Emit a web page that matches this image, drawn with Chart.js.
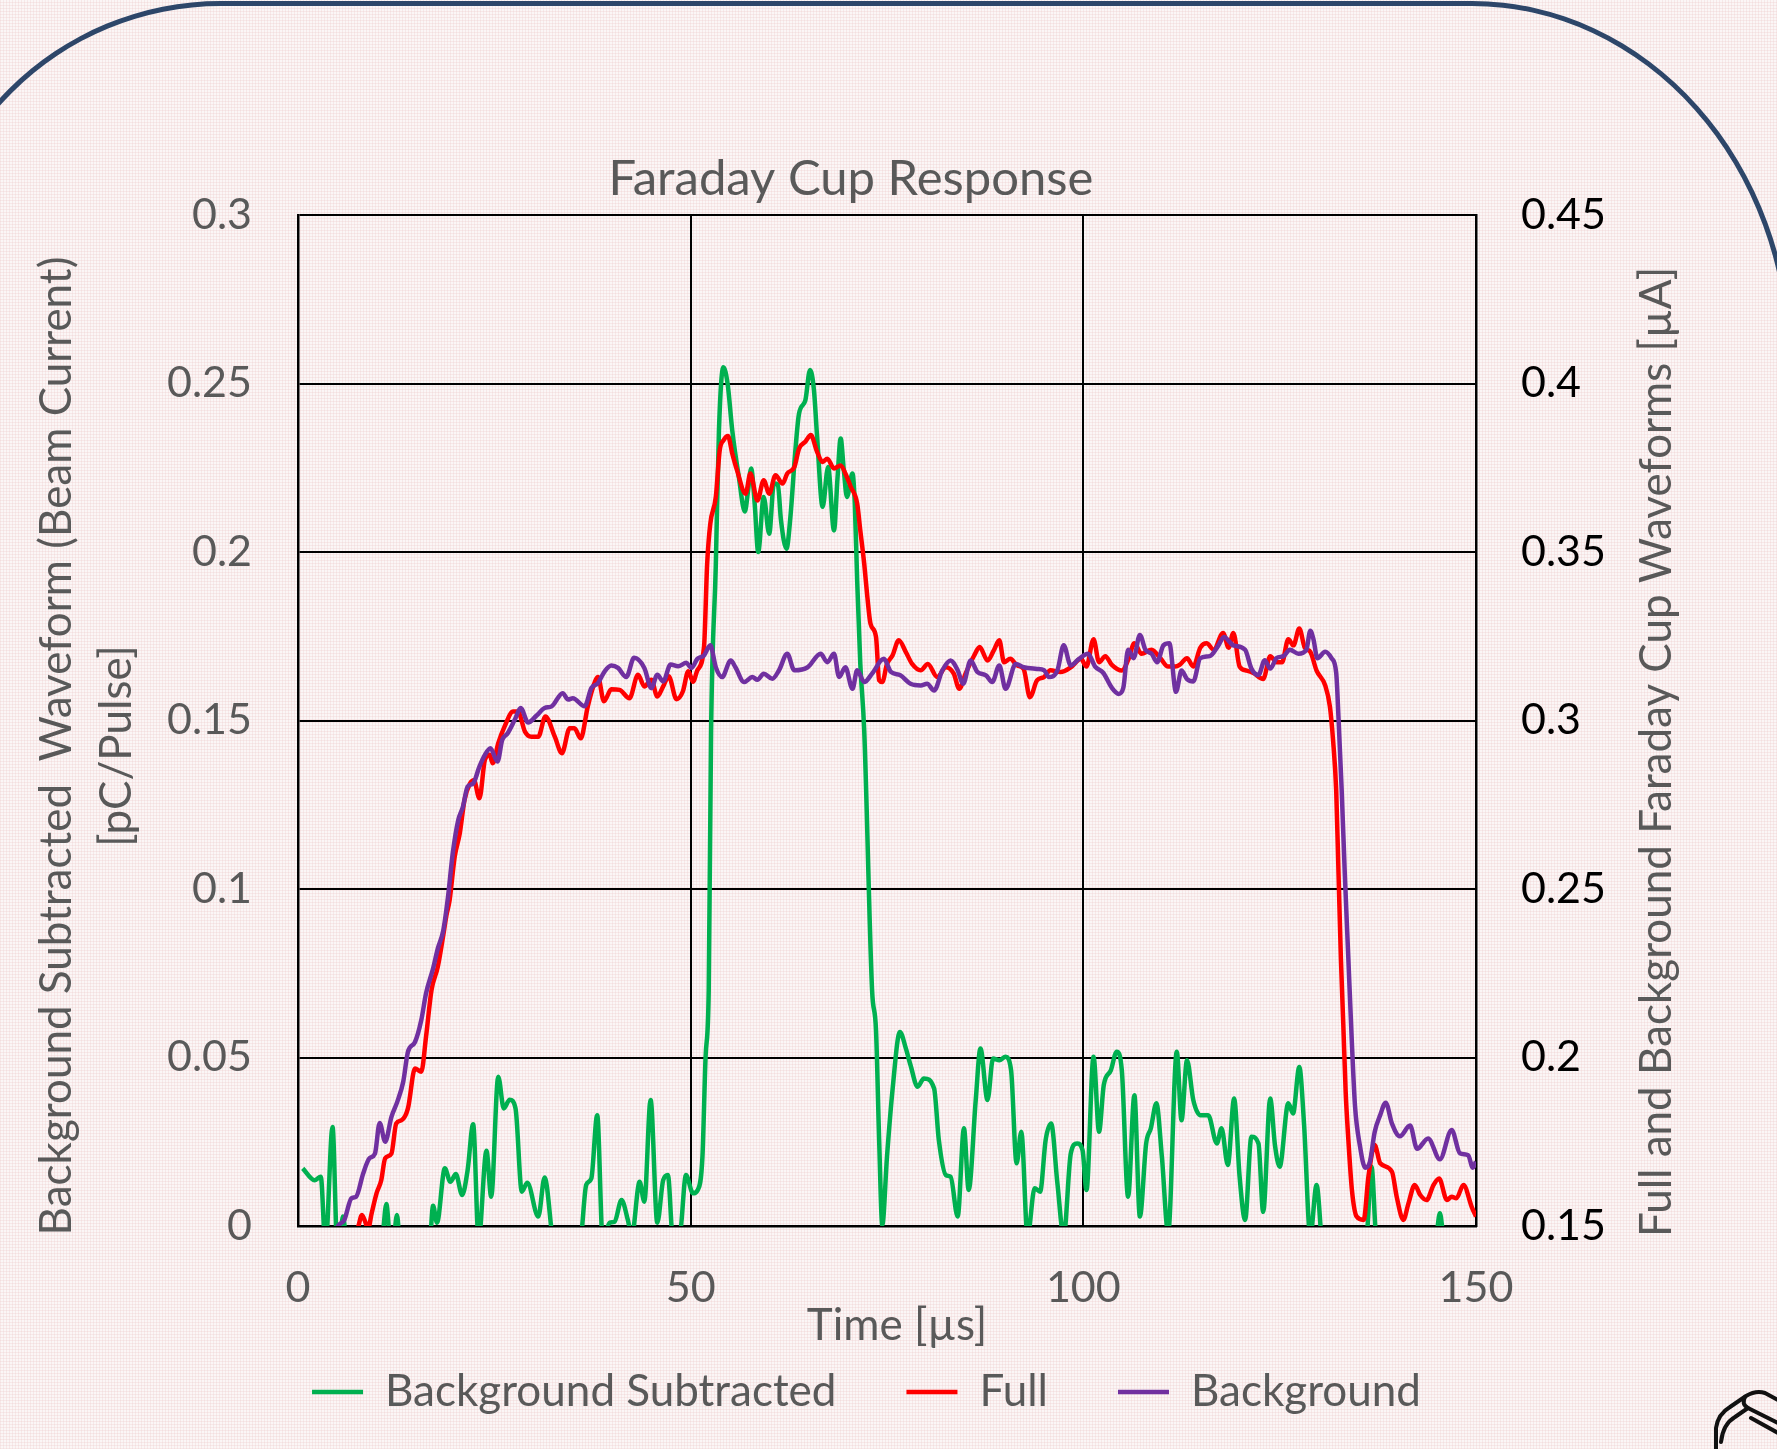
<!DOCTYPE html>
<html>
<head>
<meta charset="utf-8">
<title>Faraday Cup Response</title>
<script src="https://cdn.jsdelivr.net/npm/chart.js@4.4.1/dist/chart.umd.min.js"></script>
<style>
  html, body { margin: 0; padding: 0; }
  body {
    width: 1777px; height: 1449px; overflow: hidden; position: relative;
    background-color: #fbf6f6;
    background-image:
      repeating-linear-gradient(0deg, rgba(236, 200, 200, 0.30) 0 1px, transparent 1px 3px),
      repeating-linear-gradient(90deg, rgba(236, 200, 200, 0.30) 0 1px, transparent 1px 3px);
  }
  #frame {
    position: absolute; left: -79px; top: 1px; width: 1871px; height: 1700px;
    box-sizing: border-box; border: 5px solid #2d4669;
    border-top-left-radius: 300px;
    border-top-right-radius: 320px 360px;
  }
  #clip { position: absolute; left: 1700px; top: 1380px; }
  #wrap { position: absolute; left: 0; top: 0; width: 1777px; height: 1449px; }
</style>
</head>
<body>
<div id="frame"></div>
<svg id="clip" width="77" height="69" viewBox="1700 1380 77 69" fill="none" stroke="#111" stroke-width="4" stroke-linecap="round" stroke-linejoin="round">
  <path d="M1716 1452 L1716 1428 Q1718 1414 1730 1407 L1746 1396 Q1756 1390 1765 1393 L1780 1401"/>
  <path d="M1721 1442 Q1723 1424 1735 1417 L1748 1408 L1780 1424"/>
  <path d="M1751 1418 L1780 1434"/>
  <path d="M1745 1397 Q1741 1404 1748 1408"/>
</svg>
<div id="wrap"><canvas id="chart"></canvas></div>
<script>
// Background subtracted waveform (left axis, pC/Pulse)
const bgSubT = [0.6,2.1,2.9,3.5,4.4,5.0,5.4,5.73,6.3,8.0,10.7,11.25,11.8,12.2,12.6,13.0,15.0,16.8,17.2,17.7,
  18.7,19.4,20.1,20.9,21.6,22.3,23.0,24.0,24.6,25.5,26.2,26.95,27.7,28.5,29.2,30.6,31.4,32.6,34.5,36.0,
  36.7,37.35,38.1,38.8,39.7,40.3,41.2,42.0,42.5,43.5,44.1,44.9,45.75,46.5,47.1,47.75,48.6,49.4,50.3,50.9,
  51.5,51.9,52.3,52.6,53.2,53.6,54.16,54.7,55.3,56.15,56.9,57.3,57.7,58.15,58.6,59.3,60.0,60.6,61.1,61.5,
  62.2,62.7,63.3,63.8,64.6,65.2,65.7,66.1,66.8,67.5,68.25,68.7,69.1,69.5,69.9,70.6,70.9,71.2,71.6,72.1,
  73.1,73.6,74.0,74.4,75.0,75.7,76.65,77.4,78.0,78.9,79.7,81.0,81.6,82.5,83.1,84.0,84.8,85.4,86.3,86.9,
  87.8,88.5,89.3,90.1,90.8,91.5,92.1,92.9,93.8,94.5,95.2,95.9,96.7,97.5,98.4,99.2,99.9,100.4,101.3,102.0,
  102.6,103.5,104.25,104.9,105.7,106.5,107.2,108.0,108.6,109.3,110.0,110.8,111.9,112.5,113.2,114.0,114.9,115.9,117.0,117.6,
  118.4,119.2,119.9,120.6,121.4,122.3,122.9,123.8,124.4,125.0,126.1,126.7,127.5,128.1,128.9,129.7,130.4,132.0,135.0,136.1,
  136.7,137.3,139.0,143.0,145.0,145.4,145.8,147.0,150.0];
const bgSubV = [0.0171,0.0136,0.0146,-0.006,0.0294,-0.006,-0.003,0.0028,-0.008,-0.01,-0.004,0.0065,-0.006,-0.004,0.0033,-0.006,-0.01,-0.004,0.006,0.001,
  0.0171,0.0131,0.0154,0.0092,0.0166,0.0302,-0.004,0.0223,0.0087,0.0443,0.0349,0.0375,0.0349,0.0102,0.0128,0.0028,0.0144,-0.006,-0.01,-0.004,
  0.0122,0.0141,0.0329,-0.004,0.001,0.0012,0.0077,0.0018,-0.003,0.0131,0.0072,0.0374,0.001,0.0136,0.0151,-0.004,-0.003,0.0151,0.0097,0.0107,
  0.0206,0.0502,0.07,0.147,0.196,0.236,0.2548,0.25,0.236,0.222,0.212,0.218,0.2248,0.2144,0.2,0.2163,0.2054,0.2203,0.22,0.2094,
  0.201,0.2104,0.2292,0.2411,0.245,0.254,0.248,0.2342,0.2134,0.2252,0.2064,0.222,0.2337,0.2243,0.2163,0.2233,0.2144,0.1916,0.1668,0.147,
  0.07,0.0581,0.0255,0.0003,0.0206,0.0403,0.0576,0.0527,0.0477,0.0413,0.0438,0.0408,0.0255,0.0151,0.0146,0.0028,0.029,0.0107,0.0374,0.0527,
  0.0374,0.0497,0.0492,0.0502,0.0462,0.0186,0.028,-0.003,0.0112,0.0102,0.0255,0.0304,0.0126,-0.003,0.0215,0.0245,0.0225,0.0107,0.0502,0.028,
  0.0418,0.0462,0.0517,0.0462,0.0087,0.0388,0.0028,0.0245,0.029,0.0364,0.0206,-0.002,0.0517,0.0314,0.0492,0.0374,0.0329,0.0329,0.0245,0.029,
  0.0181,0.0378,0.0146,0.0018,0.0265,0.0245,0.0042,0.0378,0.024,0.0176,0.0364,0.0334,0.0472,0.0304,-0.003,0.0122,-0.005,-0.015,-0.012,-0.003,
  0.0176,-0.004,-0.012,-0.012,-0.002,0.0038,-0.002,-0.01,-0.01];

// Full waveform (right axis, µA)
const fullT = [0,4,7.0,7.7,8.15,8.6,8.9,9.4,10.0,10.6,11.1,11.9,12.5,13.2,14.0,14.9,15.7,16.3,17.0,17.8,
  18.5,18.9,19.3,19.95,20.6,21.2,21.9,22.4,23.1,23.8,24.4,24.8,25.5,26.3,27.4,28.0,28.9,29.7,30.6,31.5,
  32.7,33.6,34.6,35.2,36.0,36.9,37.6,38.2,38.96,39.9,40.95,42.2,43.3,44.1,45.0,45.75,46.5,47.2,48.2,49.0,
  49.7,50.3,50.85,51.7,52.1,52.5,53.2,53.7,54.2,54.75,55.3,55.9,57.0,57.6,58.5,59.3,60.0,60.8,61.7,62.3,
  63.2,63.8,64.6,65.3,66.1,66.8,67.4,68.25,69.1,69.7,70.4,71.2,71.6,72.1,72.5,72.9,73.6,74.0,74.4,75.0,
  75.7,76.5,77.4,78.2,79.3,80.2,81.4,82.5,83.5,84.2,85.0,86.1,86.8,87.8,88.6,89.3,89.9,90.7,91.6,92.4,
  93.2,94.1,95.0,95.8,97.1,98.4,99.7,100.4,101.3,102.0,102.8,103.6,104.9,105.7,106.5,107.4,108.7,109.8,110.8,111.7,
  112.3,113.2,114.0,114.9,115.7,116.6,117.8,118.5,119.1,119.9,120.8,121.65,122.9,123.8,124.6,125.3,126.1,126.75,127.5,128.2,
  128.9,129.7,130.8,131.4,131.8,132.2,132.5,132.8,133.1,133.4,133.75,134.2,134.8,135.7,136.3,137.1,137.8,139.3,139.9,140.75,
  141.4,142.2,142.9,143.7,144.6,145.3,146.3,146.9,147.5,148.4,149.45,150];
const fullV = [0.130,0.135,0.144,0.150,0.1533,0.151,0.149,0.154,0.1597,0.1636,0.1701,0.1715,0.1804,0.1814,0.1849,0.1967,0.1958,0.2061,0.220,0.2269,
  0.2363,0.2422,0.2466,0.2595,0.2665,0.2764,0.2813,0.2823,0.2769,0.2883,0.2898,0.2873,0.2933,0.2982,0.3027,0.3027,0.2967,0.2952,0.2952,0.3012,
  0.2952,0.2903,0.2977,0.2977,0.2947,0.3042,0.3101,0.3129,0.3057,0.3093,0.3091,0.3066,0.3136,0.3101,0.3121,0.3071,0.3101,0.3131,0.3063,0.3086,
  0.3146,0.3115,0.3149,0.3218,0.3465,0.3584,0.3663,0.3802,0.3832,0.3844,0.3792,0.3743,0.3673,0.3733,0.3653,0.3713,0.3673,0.3728,0.3703,0.3733,
  0.3752,0.3807,0.3827,0.3847,0.3797,0.3767,0.3777,0.3748,0.3757,0.3733,0.3693,0.3644,0.3564,0.3465,0.3366,0.3287,0.3248,0.3119,0.3114,0.3168,
  0.3193,0.3238,0.3203,0.3168,0.3149,0.3168,0.3129,0.3158,0.3139,0.3094,0.3139,0.3193,0.3218,0.3178,0.3208,0.3238,0.3173,0.3183,0.3163,0.3153,
  0.3069,0.3119,0.3129,0.3149,0.3144,0.3158,0.3183,0.316,0.3241,0.3173,0.3191,0.3166,0.3148,0.3179,0.3229,0.3198,0.321,0.3185,0.316,0.316,
  0.3166,0.3185,0.316,0.3216,0.3229,0.321,0.326,0.3216,0.326,0.316,0.3148,0.3141,0.3123,0.3191,0.3173,0.3173,0.3241,0.3223,0.3273,0.3216,
  0.3204,0.3148,0.3104,0.3041,0.2941,0.2791,0.2541,0.2291,0.210,0.190,0.1755,0.1607,0.1528,0.1518,0.1646,0.174,0.1686,0.1661,0.1587,0.1518,
  0.1567,0.1622,0.1592,0.1577,0.1622,0.1641,0.1577,0.1587,0.1582,0.1622,0.1557,0.1528];

// Background waveform (right axis, µA)
const bgT = [0,3,4.5,5.1,5.9,6.8,7.4,8.3,9.1,9.8,10.4,11.1,11.9,12.65,13.4,14.0,14.9,15.7,16.3,17.2,
  17.8,18.5,19.1,19.7,20.4,21.0,21.6,22.3,23.1,23.8,24.5,25.4,26.0,26.7,27.6,28.35,29.3,30.35,31.4,32.3,
  33.7,34.4,35.0,36.5,37.35,38.2,39.05,39.9,40.75,41.8,42.8,44.1,45.0,45.75,46.5,47.45,48.4,49.45,50.1,50.85,
  51.7,52.5,53.2,54.0,55.1,55.7,56.8,57.85,58.5,59.3,60.4,61.25,62.3,63.2,64.9,66.55,67.4,68.25,68.9,69.7,
  70.6,71.2,72.1,73.1,74.6,75.5,76.7,78.0,79.3,80.1,81.0,82.05,83.1,84.0,84.7,85.65,86.5,87.6,88.4,89.3,
  90.1,91.4,92.4,94.1,95.0,95.6,96.7,97.5,98.4,99.45,100.6,101.5,102.55,103.6,104.5,105.1,105.7,106.4,107.2,107.9,
  108.7,109.4,110.2,110.95,111.8,112.5,113.2,114.0,114.9,116.1,117.2,117.9,119.1,120.6,121.4,122.3,123.1,123.8,124.6,125.5,
  126.3,127.4,128.4,128.9,129.3,129.8,130.8,131.6,132.2,132.5,132.9,133.3,133.75,134.2,134.6,135.2,135.9,136.5,137.1,137.8,
  138.5,139.3,140.3,141.6,142.5,143.9,145.4,146.9,147.95,149.0,149.6,150];
const bgV = [0.125,0.138,0.146,0.150,0.1518,0.1582,0.1587,0.1656,0.1701,0.1715,0.1806,0.175,0.1824,0.1869,0.1928,0.2017,0.2046,0.2111,0.219,0.2264,
  0.2323,0.2377,0.2476,0.2605,0.2704,0.2744,0.2804,0.2813,0.2863,0.2898,0.2918,0.2878,0.2942,0.2962,0.3002,0.3037,0.2994,0.3014,0.3037,0.3042,
  0.3081,0.3062,0.3066,0.3042,0.3096,0.3111,0.3146,0.3163,0.3156,0.3129,0.3186,0.3156,0.3096,0.3136,0.3116,0.3166,0.3161,0.3171,0.3156,0.3183,
  0.3193,0.3223,0.3158,0.3129,0.3178,0.3158,0.3114,0.3129,0.3121,0.3139,0.3124,0.3149,0.3198,0.3149,0.3158,0.3198,0.3173,0.3198,0.3129,0.3158,
  0.3094,0.3149,0.3114,0.3139,0.3183,0.3144,0.3134,0.3109,0.3104,0.3109,0.3089,0.3149,0.3178,0.3149,0.3109,0.3178,0.3144,0.3134,0.3114,0.3163,
  0.3094,0.3168,0.3158,0.3153,0.3149,0.3129,0.3149,0.3223,0.3163,0.3183,0.3198,0.316,0.3141,0.3098,0.3079,0.3098,0.321,0.3185,0.3254,0.321,
  0.3198,0.3173,0.3223,0.3229,0.3085,0.3148,0.3123,0.3116,0.3185,0.3191,0.3223,0.3248,0.3223,0.321,0.3154,0.3135,0.3179,0.3154,0.3185,0.3191,
  0.321,0.3198,0.321,0.3266,0.3241,0.3185,0.3204,0.3185,0.3141,0.3004,0.2791,0.2541,0.2291,0.2041,0.1854,0.1741,0.1673,0.1691,0.1779,0.1829,
  0.1866,0.1804,0.1766,0.1798,0.1729,0.176,0.1698,0.1785,0.1716,0.171,0.1673,0.1691];

// Axis tick labels
const xTicks = ['0', '50', '100', '150'];
const leftTicks = ['0', '0.05', '0.1', '0.15', '0.2', '0.25', '0.3'];
const rightTicks = ['0.15', '0.2', '0.25', '0.3', '0.35', '0.4', '0.45'];

const chartTitle = 'Faraday Cup Response';
const xTitle = 'Time [\u00b5s]';
const leftTitle = ['Background Subtracted  Waveform (Beam Current)', '[pC/Pulse]'];
const rightTitle = 'Full and Background Faraday Cup Waveforms [\u00b5A]';

const GRAY = '#595959';
const FONT = 'Lato';

function toPoints(ts, vs) {
    return ts.map((t, i) => ({ x: t, y: vs[i] }));
}

// Titles drawn by hand so they can sit where the original puts them
const titlePlugin = {
    id: 'titles',
    afterDraw(chart) {
        const ctx = chart.ctx;
        ctx.save();
        ctx.fillStyle = GRAY;
        ctx.textAlign = 'center';
        ctx.textBaseline = 'middle';
        ctx.font = `49px ${FONT}`;
        ctx.fillText(chartTitle, 851, 179);
        ctx.font = `44px ${FONT}`;
        ctx.fillText(xTitle, 897, 1326);

        ctx.translate(57, 746);
        ctx.rotate(-Math.PI / 2);
        ctx.fillText(leftTitle[0], 0, 0);
        ctx.fillText(leftTitle[1], 0, 60);
        ctx.restore();

        ctx.save();
        ctx.fillStyle = GRAY;
        ctx.textAlign = 'center';
        ctx.textBaseline = 'middle';
        ctx.font = `44px ${FONT}`;
        ctx.translate(1657, 752);
        ctx.rotate(-Math.PI / 2);
        ctx.fillText(rightTitle, 0, 0);
        ctx.restore();
    }
};

// The legend needs wide gaps between entries; nudge it up under the axis title and a bit left
const legendNudge = {
    id: 'legendNudge',
    afterLayout(chart) {
        const lg = chart.legend;
        if (lg) {
            lg.top -= 25;
            lg.bottom -= 25;
            lg.left -= 22;
            lg.right -= 22;
        }
    }
};

const tickFont = { family: FONT, size: 43 };

new Chart(document.getElementById('chart'), {
    type: 'line',
    data: {
        datasets: [
            {
                label: 'Background Subtracted',
                data: toPoints(bgSubT, bgSubV),
                borderColor: '#00b050',
                backgroundColor: '#00b050',
                yAxisID: 'y',
                order: 3
            },
            {
                label: 'Full',
                data: toPoints(fullT, fullV),
                borderColor: '#ff0000',
                backgroundColor: '#ff0000',
                yAxisID: 'y1',
                order: 2
            },
            {
                label: 'Background',
                data: toPoints(bgT, bgV),
                borderColor: '#7030a0',
                backgroundColor: '#7030a0',
                yAxisID: 'y1',
                order: 1
            }
        ]
    },
    options: {
        responsive: true,
        maintainAspectRatio: false,
        animation: false,
        devicePixelRatio: 1,
        layout: { padding: { top: 215, bottom: 0, left: 0, right: 0 } },
        elements: {
            point: { radius: 0 },
            line: { borderWidth: 4.5, cubicInterpolationMode: 'monotone' }
        },
        plugins: {
            title: { display: false },
            tooltip: { enabled: false },
            legend: {
                position: 'bottom',
                labels: {
                    font: { family: FONT, size: 44 },
                    color: GRAY,
                    boxWidth: 51,
                    boxHeight: 0,
                    padding: 70,
                    sort: (a, b) => a.datasetIndex - b.datasetIndex
                }
            }
        },
        scales: {
            x: {
                type: 'linear',
                min: 0,
                max: 150,
                ticks: {
                    stepSize: 50,
                    color: GRAY,
                    font: tickFont,
                    padding: 36,
                    maxRotation: 0,
                    callback: (v, i) => xTicks[i]
                },
                grid: { color: '#000', lineWidth: 2, drawTicks: false },
                border: { color: '#000', width: 2.5 },
                afterFit: s => { s.height = 99; }
            },
            y: {
                position: 'left',
                min: 0,
                max: 0.3,
                ticks: {
                    stepSize: 0.05,
                    color: GRAY,
                    font: tickFont,
                    padding: 46,
                    callback: (v, i) => leftTicks[i]
                },
                grid: { color: '#000', lineWidth: 2, drawTicks: false },
                border: { color: '#000', width: 2.5 },
                afterFit: s => { s.width = 298; }
            },
            y1: {
                position: 'right',
                min: 0.15,
                max: 0.45,
                ticks: {
                    stepSize: 0.05,
                    color: '#000',
                    font: tickFont,
                    padding: 45,
                    callback: (v, i) => rightTicks[i]
                },
                grid: { drawOnChartArea: false, drawTicks: false },
                border: { color: '#000', width: 2.5 },
                afterFit: s => { s.width = 301; }
            }
        }
    },
    plugins: [titlePlugin, legendNudge]
});
</script>
</body>
</html>
